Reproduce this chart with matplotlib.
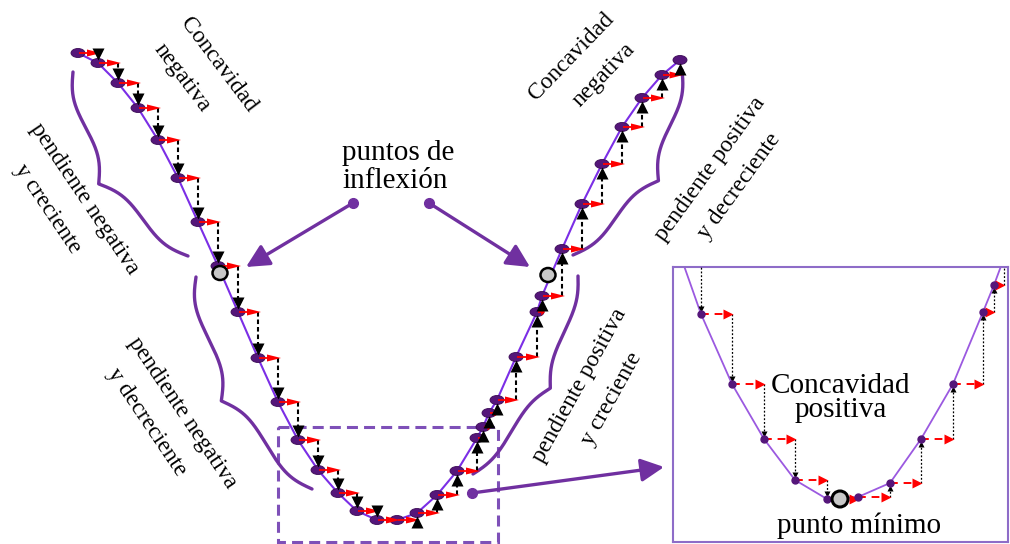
import numpy as np
import matplotlib.pyplot as plt
from matplotlib.patches import Ellipse, Rectangle

# main V-shaped curve: points where the staircase touches the curve (drawing pixels)
curve_x = [78, 98, 118, 138, 158, 178, 198, 218, 238, 258, 278, 298, 318, 338, 357,
           377, 397, 417, 437, 457, 477, 483, 489, 497, 516, 537, 542, 562, 582, 602,
           622, 642, 662, 680]
curve_y = [53, 63, 83, 108, 140, 178, 222, 266, 312, 358, 402, 440, 470, 493, 511,
           520, 520, 513, 495, 471, 438, 427, 413, 400, 357, 312, 296, 249, 204, 164,
           127, 98, 75, 60]
inflexion_x = [220, 548]
inflexion_y = [273, 275]

# zoomed part around the minimum
inset_x = [670, 701, 732, 764, 795, 827, 858, 890, 921, 953, 983, 994, 1004]
inset_y = [226, 314, 384, 439, 480, 499, 497, 483, 439, 384, 312, 285, 258]
minimo_x, minimo_y = 840, 499

PURPLE = '#7030a0'
CURVE = '#7b2ee6'
DOT = '#55167a'
FONT = 'Liberation Serif'

W, H = 1010, 544
fig = plt.figure(figsize=(W / 100, H / 100), dpi=100)
ax = fig.add_axes([0, 0, 1, 1])
ax.set_xlim(0, W)
ax.set_ylim(H, 0)
ax.axis('off')


def brace(ax, p0, p1, tip, beta=0.08):
    p0, p1, tip = np.asarray(p0, float), np.asarray(p1, float), np.asarray(tip, float)
    d = p1 - p0
    L = np.hypot(*d)
    u = d / L
    n = np.array([-u[1], u[0]])
    h = np.dot(tip - (p0 + p1) / 2, n)
    t = np.linspace(0, L / 2, 150)
    f = 1 / (1 + np.exp(-beta * t)) + 1 / (1 + np.exp(-beta * (t - L / 2))) - 0.5
    tt = np.concatenate([t, L - t[::-1]])
    ff = np.concatenate([f, f[::-1]])
    pts = p0 + np.outer(tt, u) + np.outer(ff * h, n)
    ax.plot(pts[:, 0], pts[:, 1], color=PURPLE, lw=2.4, solid_capstyle='round', zorder=2)


def rtext(x, y, s, rot, size=17):
    ax.text(x, y, s, rotation=rot, rotation_mode='anchor', ha='center', va='center',
            fontsize=size, family=FONT)


# curve
ax.plot(curve_x, curve_y, color=CURVE, lw=1.5, zorder=2)

# staircase: red step to the right, black dashed step to the next point
for i in range(len(curve_x) - 1):
    x0, y0, x1, y1 = curve_x[i], curve_y[i], curve_x[i + 1], curve_y[i + 1]
    dx = x1 - x0
    ax.arrow(x0 + 1, y0, dx + 2, 0, width=1.8, head_width=7, head_length=min(14, 0.75 * dx),
             length_includes_head=True, fc='red', ec='none', zorder=4)
    dy = y1 - y0
    if abs(dy) < 3:
        continue
    s = np.sign(dy)
    tip = y1 - s * 4
    if abs(dy) > 14:
        ax.plot([x1, x1], [y0, tip - s * 8], ls=(0, (2.2, 1.4)), color='black', lw=1.5, zorder=3)
    ax.plot(x1, tip - s * 5, marker='v' if s > 0 else '^', ms=8.5, color='black',
            mec='none', zorder=5)

for x, y in zip(curve_x, curve_y):
    ax.add_patch(Ellipse((x, y), 14, 9, fc=DOT, ec='#3a0a55', lw=0.6, zorder=3.5))
for x, y in zip(inflexion_x, inflexion_y):
    ax.add_patch(Ellipse((x, y), 15, 14, fc='#c8c8c8', ec='black', lw=1.8, zorder=6))

# braces
brace(ax, (73, 72), (188, 256), (95, 178))
brace(ax, (196, 277), (312, 489), (217, 393))
brace(ax, (682, 70), (573, 255), (663, 173))
brace(ax, (578, 276), (473, 474), (552, 385))

# labels along the branches
rtext(218, 65, 'Concavidad', -53)
rtext(182, 78, 'negativa', -53)
rtext(571, 57, 'Concavidad', 46)
rtext(604, 75, 'negativa', 46)
rtext(84, 199, 'pendiente negativa', -56)
rtext(48, 209, 'y creciente', -56)
rtext(182, 413, 'pendiente negativa', -56)
rtext(147, 422, 'y decreciente', -56)
rtext(710, 169, 'pendiente positiva', 54)
rtext(739, 186, 'y decreciente', 54)
rtext(580, 385, 'pendiente positiva', 61)
rtext(612, 399, 'y creciente', 61)

ax.text(398, 160, 'puntos de', ha='center', va='baseline', fontsize=21, family=FONT)
ax.text(395, 188, 'inflexión', ha='center', va='baseline', fontsize=21, family=FONT)

# arrows to the inflection points and to the zoom
arrow_kw = dict(arrowstyle='-|>,head_length=0.7,head_width=0.35', color=PURPLE, lw=2.4,
                mutation_scale=20, shrinkA=0, shrinkB=0)
for (xs, ys), (xe, ye) in [((353, 203), (246, 267)), ((429, 203), (530, 267)),
                           ((472, 493), (664, 467))]:
    ax.annotate('', xy=(xe, ye), xytext=(xs, ys), arrowprops=arrow_kw, zorder=5)
    ax.plot(xs, ys, 'o', ms=7, color=PURPLE, zorder=5)

ax.add_patch(Rectangle((278, 427), 220, 115, fill=False, ec='#7e50b8', lw=2.2,
                       ls=(0, (3.6, 2)), zorder=1))

# inset
L0, R0, T0, B0 = 673, 1008, 267, 542
ax2 = fig.add_axes([L0 / W, (H - B0) / H, (R0 - L0) / W, (B0 - T0) / H])
ax2.set_xlim(L0, R0)
ax2.set_ylim(B0, T0)
ax2.set_xticks([])
ax2.set_yticks([])
for sp in ax2.spines.values():
    sp.set_color('#8e6cc8')
    sp.set_linewidth(1.5)

ax2.plot(inset_x, inset_y, color='#9b59e0', lw=1.3, zorder=2)
for i in range(len(inset_x) - 1):
    x0, y0, x1, y1 = inset_x[i], inset_y[i], inset_x[i + 1], inset_y[i + 1]
    ax2.plot([x0, x1 - 6], [y0, y0], color='red', lw=1.4, ls=(0, (4, 3)), zorder=3)
    ax2.plot(x1 - 4, y0, marker='>', ms=6.5, color='red', mec='none', zorder=4)
    dy = y1 - y0
    if abs(dy) < 3:
        continue
    s = np.sign(dy)
    ax2.plot([x1, x1], [y0, y1 - s * 6], color='black', lw=0.9, ls=(0, (1.5, 1.5)), zorder=3)
    ax2.plot(x1, y1 - s * 5, marker='v' if s > 0 else '^', ms=4.5, color='black',
             mec='none', zorder=4)
ax2.plot(inset_x[1:-1], inset_y[1:-1], 'o', ms=5, color=DOT, zorder=5)
ax2.add_patch(Ellipse((minimo_x, minimo_y), 16, 16, fc='#c8c8c8', ec='black', lw=2.2, zorder=6))

ax2.text(840, 393, 'Concavidad', ha='center', va='baseline', fontsize=21, family=FONT)
ax2.text(841, 417, 'positiva', ha='center', va='baseline', fontsize=21, family=FONT)
ax2.text(859, 533, 'punto mínimo', ha='center', va='baseline', fontsize=21, family=FONT)

fig.savefig('out.png', dpi=100)
